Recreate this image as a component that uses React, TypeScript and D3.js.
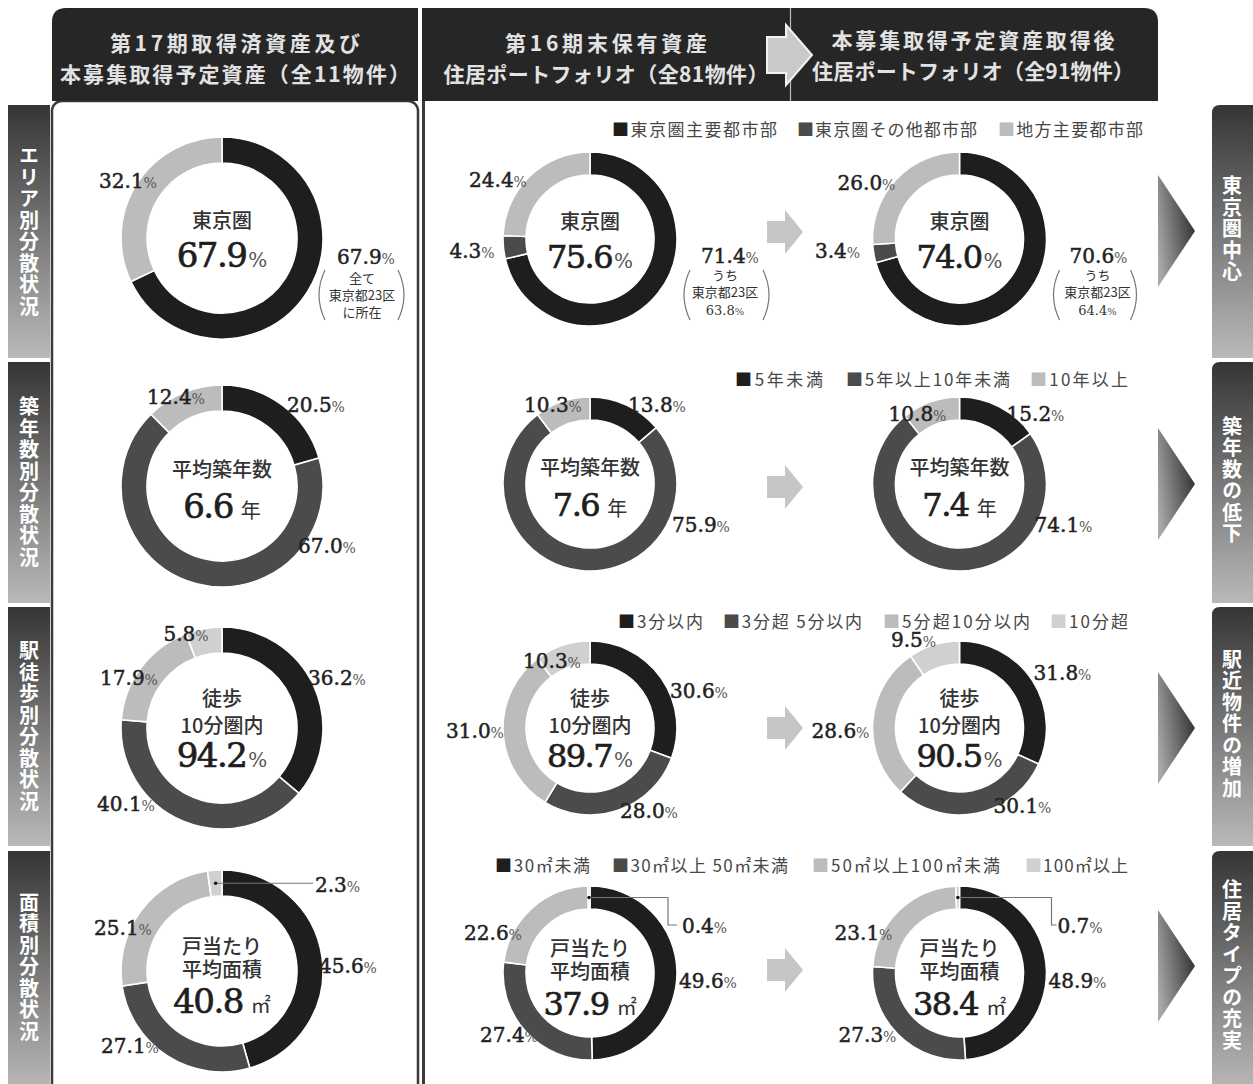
import React from "react";
import * as d3 from "d3";

// ---------------- DATA ----------------
const headerLeft = ["第17期取得済資産及び", "本募集取得予定資産（全11物件）"];
const headerMiddle = ["第16期末保有資産", "住居ポートフォリオ（全81物件）"];
const headerRight = ["本募集取得予定資産取得後", "住居ポートフォリオ（全91物件）"];

const rowTitles = ["エリア別分散状況", "築年数別分散状況", "駅徒歩別分散状況", "面積別分散状況"];
const rowConclusions = ["東京圏中心", "築年数の低下", "駅近物件の増加", "住居タイプの充実"];

const areaCategories = ["東京圏主要都市部", "東京圏その他都市部", "地方主要都市部"];
const areaValues17 = [67.9, 0, 32.1];
const areaValues16 = [71.4, 4.3, 24.4];
const areaValuesAfter = [70.6, 3.4, 26.0];
const areaCenterValues = ["67.9", "75.6", "74.0"];
const areaNotes = [
  ["全て", "東京都23区", "に所在"],
  ["うち", "東京都23区", "63.8%"],
  ["うち", "東京都23区", "64.4%"],
];

const ageCategories = ["5年未満", "5年以上10年未満", "10年以上"];
const ageValues17 = [20.5, 67.0, 12.4];
const ageValues16 = [13.8, 75.9, 10.3];
const ageValuesAfter = [15.2, 74.1, 10.8];
const ageCenterValues = ["6.6", "7.6", "7.4"];

const walkCategories = ["3分以内", "3分超 5分以内", "5分超10分以内", "10分超"];
const walkValues17 = [36.2, 40.1, 17.9, 5.8];
const walkValues16 = [30.6, 28.0, 31.0, 10.3];
const walkValuesAfter = [31.8, 30.1, 28.6, 9.5];
const walkCenterValues = ["94.2", "89.7", "90.5"];

const sizeCategories = ["30㎡未満", "30㎡以上 50㎡未満", "50㎡以上100㎡未満", "100㎡以上"];
const sizeValues17 = [45.6, 27.1, 25.1, 2.3];
const sizeValues16 = [49.6, 27.4, 22.6, 0.4];
const sizeValuesAfter = [48.9, 27.3, 23.1, 0.7];
const sizeCenterValues = ["40.8", "37.9", "38.4"];

const centerTitles = [["東京圏"], ["平均築年数"], ["徒歩", "10分圏内"], ["戸当たり", "平均面積"]];
const centerUnits = ["%", "年", "%", "㎡"];

// ---------------- LAYOUT / STYLE ----------------
const W = 1253;
const H = 1084;
const SANS = "'Noto Sans CJK JP', 'Noto Sans', sans-serif";
const SERIF = "'DejaVu Serif', 'Liberation Serif', serif";
const segColors = ["#1e1e1e", "#4b4b4b", "#bcbcbc", "#d0d0d0"];

const rowValues = [
  [areaValues17, areaValues16, areaValuesAfter],
  [ageValues17, ageValues16, ageValuesAfter],
  [walkValues17, walkValues16, walkValuesAfter],
  [sizeValues17, sizeValues16, sizeValuesAfter],
];
const rowCategories = [areaCategories, ageCategories, walkCategories, sizeCategories];
const rowCenterValues = [areaCenterValues, ageCenterValues, walkCenterValues, sizeCenterValues];

const colCX = [222, 590, 959.5];
const donutCY = [
  [238, 486, 728, 971],
  [239, 484, 728, 973],
  [239, 484, 728, 973],
];
const radii = [
  [75, 101],
  [64, 87],
  [64, 87],
];

// label offsets [dx, baseline dy] relative to donut centre, per row / column / category
const labelOffsets: (number[] | null)[][][] = [
  [
    [[144, 26], null, [-94, -50]],
    [[140, 24], [-118, 19], [-92, -52]],
    [[139, 24], [-122, 19], [-93, -49]],
  ],
  [
    [[94, -74], [105, 67], [-46, -82]],
    [[67, -72], [111, 48], [-37, -72]],
    [[76, -63], [104, 48], [-42, -63]],
  ],
  [
    [[115, -43], [-96, 83], [-93, -43], [-36, -87]],
    [[109, -30], [59, 90], [-115, 10], [-38, -60]],
    [[103, -48], [63, 85], [-119, 10], [-46, -81]],
  ],
  [
    [[126, 2], [-92, 82], [-99, -36], [93, -79]],
    [[118, 15], [-81, 69], [-97, -33], [92, -40]],
    [[118, 15], [-92, 69], [-96, -33], [98, -40]],
  ],
];
// leader for the tiny last segment in the area row
const leaders = [
  { cornerX: 91, downY: null as number | null, endX: 91 },
  { cornerX: 78, downY: -48, endX: 87 },
  { cornerX: 92, downY: -48, endX: 97 },
];

const centerLayout = [
  { titles: [-10], num: 29 },
  { titles: [-9], num: 32 },
  { titles: [-22, 5], num: 39 },
  { titles: [-17, 6], num: 42 },
];

const legendY = [130, 380, 622, 866];
const legendStarts = [
  [612, 797, 998],
  [735, 846, 1030],
  [618, 723, 883, 1050],
  [495, 612, 812, 1025],
];
const legendWidths = [
  [165, 180, 145],
  [88, 164, 98],
  [85, 139, 147, 78],
  [95, 176, 188, 103],
];

const rowBands = [
  [105, 358],
  [362, 603],
  [607, 846],
  [851, 1090],
];
const arrowCY = [232, 487, 728, 970];
const triCY = [231, 484, 728, 966];

const noteLayout = [
  { dx: 140, lines: [45, 62, 79], pl: 96, pr: 183, pt: 32, pb: 82 },
  { dx: 135, lines: [41, 58, 76], pl: 93, pr: 180, pt: 31, pb: 81 },
  { dx: 138, lines: [41, 58, 76], pl: 93, pr: 178, pt: 31, pb: 81 },
];

const pie = d3
  .pie<number>()
  .sort(null)
  .value((d) => d)
  .startAngle(0)
  .endAngle(2 * Math.PI);

function VText({ x, yc, text, size, spacing, fill }: any) {
  return (
    <text
      x={x}
      y={yc}
      textAnchor="middle"
      fontFamily={SANS}
      fontSize={size}
      fontWeight={700}
      fill={fill}
      letterSpacing={spacing}
      style={{ writingMode: "vertical-rl", textOrientation: "upright" } as any}
    >
      {text}
    </text>
  );
}

function Paren({ x1, x2, y1, y2 }: any) {
  const ym = (y1 + y2) / 2;
  return (
    <g fill="none" stroke="#777" strokeWidth={1.2}>
      <path d={`M${x1 + 7},${y1} Q${x1 - 5},${ym} ${x1 + 7},${y2}`} />
      <path d={`M${x2 - 7},${y1} Q${x2 + 5},${ym} ${x2 - 7},${y2}`} />
    </g>
  );
}

function BlockArrow({ x0, cy, shaftEnd, tip, sh, hh, fill, stroke }: any) {
  const pts = [
    [x0, cy - sh],
    [shaftEnd, cy - sh],
    [shaftEnd, cy - hh],
    [tip, cy],
    [shaftEnd, cy + hh],
    [shaftEnd, cy + sh],
    [x0, cy + sh],
  ];
  return <polygon points={pts.map((p) => p.join(",")).join(" ")} fill={fill} stroke={stroke || "none"} strokeWidth={2} />;
}

export default function App() {
  const headers = [headerLeft, headerMiddle, headerRight];
  const headerCX = [235, 606, 973];
  const headerY = [[51, 82], [51, 82], [48, 79]];
  const headerLens = [
    [250, 350],
    [202, 325],
    [283, 322],
  ];

  return (
    <div style={{ position: "absolute", left: 0, top: 0 }}>
      <svg width={W} height={H} viewBox={`0 0 ${W} ${H}`} style={{ display: "block", background: "#fff" }}>
        <defs>
          <linearGradient id="sideGrad" x1="0" y1="0" x2="0" y2="1">
            <stop offset="0" stopColor="#353535" />
            <stop offset="1" stopColor="#b9b9b9" />
          </linearGradient>
          <linearGradient id="triGrad" x1="0" y1="0.7" x2="1" y2="0.3">
            <stop offset="0" stopColor="#a8a8a8" />
            <stop offset="1" stopColor="#2c2c2c" />
          </linearGradient>
        </defs>

        {/* panels */}
        <rect x={52} y={101} width={366} height={1010} rx={10} fill="#fff" stroke="#3a3a3a" strokeWidth={2.5} />
        <line x1={423.5} x2={423.5} y1={101} y2={H} stroke="#3a3a3a" strokeWidth={3} />

        {/* headers */}
        <path d="M52,101 V22 Q52,8 66,8 H418 V101 Z" fill="#262626" />
        <rect x={422} y={8} width={368} height={93} fill="#262626" />
        <path d="M791,101 V8 H1144 Q1158,8 1158,22 V101 Z" fill="#262626" />
        <line x1={790.5} x2={790.5} y1={8} y2={101} stroke="#bdbdbd" strokeWidth={1.2} />
        <BlockArrow x0={767} cy={55} shaftEnd={786} tip={812} sh={18} hh={30} fill="#c9c9c9" stroke="#f2f2f2" />
        {headers.map((lines, i) =>
          lines.map((t, j) => (
            <text
              key={`h${i}${j}`}
              x={headerCX[i]}
              y={headerY[i][j]}
              textAnchor="middle"
              fontFamily={SANS}
              fontSize={21}
              fontWeight={700}
              fill="#e2e2e2"
              textLength={headerLens[i][j]}
              lengthAdjust="spacing"
            >
              {t}
            </text>
          ))
        )}

        {/* left and right side labels */}
        {rowBands.map(([y1, y2], r) => (
          <g key={`side${r}`}>
            <rect x={8} y={y1} width={42} height={Math.min(y2, H + 10) - y1} fill="url(#sideGrad)" />
            <VText x={29} yc={(y1 + Math.min(y2, H)) / 2} text={rowTitles[r]} size={20} spacing={1.5} fill="#fff" />
            <path
              d={`M1212,${y2} V${y1 + 8} Q1212,${y1} 1220,${y1} H${W} V${y2} Z`}
              fill="url(#sideGrad)"
            />
            <VText x={1232} yc={(y1 + Math.min(y2, H)) / 2 - 2} text={rowConclusions[r]} size={20} spacing={1.5} fill="#fff" />
            <polygon
              points={`1158,${triCY[r] - 56} 1195,${triCY[r]} 1158,${triCY[r] + 56}`}
              fill="url(#triGrad)"
            />
            <BlockArrow x0={767} cy={arrowCY[r]} shaftEnd={785} tip={803} sh={11} hh={22} fill="#c6c6c6" />
          </g>
        ))}

        {/* legends */}
        {rowCategories.map((cats, r) =>
          cats.map((c, k) => (
            <text
              key={`lg${r}${k}`}
              x={legendStarts[r][k]}
              y={legendY[r] + 6}
              fontFamily={SANS}
              fontSize={17}
              fill="#474747"
              textLength={legendWidths[r][k]}
              lengthAdjust="spacing"
            >
              <tspan fill={segColors[k]}>■</tspan>
              {c}
            </text>
          ))
        )}

        {/* donuts */}
        {rowValues.map((cols, r) =>
          cols.map((vals, c) => {
            const cx = colCX[c];
            const cy = donutCY[c][r];
            const [ri, ro] = radii[c];
            const arcs = pie(vals);
            const arcGen = d3.arc<d3.PieArcDatum<number>>().innerRadius(ri).outerRadius(ro);
            const bigSize = c === 0 ? 34 : 32;
            const cl = centerLayout[r];
            const unit = centerUnits[r];
            return (
              <g key={`d${r}${c}`} transform={`translate(${cx},${cy})`}>
                {arcs.map((a, k) =>
                  a.value > 0 ? (
                    <path key={k} d={arcGen(a) || ""} fill={segColors[k]} stroke="#fff" strokeWidth={1.6} />
                  ) : null
                )}
                {/* labels */}
                {arcs.map((a, k) => {
                  const off = labelOffsets[r][c][k];
                  if (!off || a.value <= 0) return null;
                  const isLeader = r === 3 && k === 3;
                  return (
                    <text
                      key={`l${k}`}
                      x={off[0]}
                      y={off[1]}
                      textAnchor={isLeader ? "start" : "middle"}
                      fontFamily={SERIF}
                      fontSize={20}
                      fill="#222"
                      stroke="#222"
                      strokeWidth={0.5}
                    >
                      {a.value.toFixed(1)}
                      <tspan fontSize={14} fill="#555" stroke="none">
                        %
                      </tspan>
                    </text>
                  );
                })}
                {/* leader for smallest area segment */}
                {r === 3 &&
                  (() => {
                    const a = arcs[3];
                    const [px, py] = arcGen.centroid(a);
                    const L = leaders[c];
                    const d =
                      L.downY === null
                        ? `M${px + 2},${py} H${L.endX}`
                        : `M${px + 2},${py} H${L.cornerX} V${L.downY} H${L.endX}`;
                    return (
                      <g>
                        <path d={d} fill="none" stroke="#777" strokeWidth={1.2} />
                        <circle cx={px} cy={py} r={1.8} fill="#111" />
                      </g>
                    );
                  })()}
                {/* centre text: titles and big value in one text block */}
                <text textAnchor="middle" fontFamily={SANS} fontSize={20} fontWeight={500} fill="#333">
                  {centerTitles[r].map((t, j) => (
                    <tspan key={`ct${j}`} x={0} y={cl.titles[j]}>
                      {t}
                    </tspan>
                  ))}
                  <tspan
                    x={0}
                    y={cl.num}
                    fontFamily={SERIF}
                    fontWeight={400}
                    fontSize={bigSize}
                    fill="#1e1e1e"
                    stroke="#1e1e1e"
                    strokeWidth={0.7}
                    letterSpacing={-1.5}
                  >
                    {rowCenterValues[r][c]}
                  </tspan>
                  {unit === "%" ? (
                    <tspan fontFamily={SERIF} fontWeight={400} fontSize={20} fill="#555" dx={2}>
                      %
                    </tspan>
                  ) : (
                    <tspan fontSize={20} fontWeight={400} fill="#333" dx={8}>
                      {unit}
                    </tspan>
                  )}
                </text>
                {/* notes in parentheses for area row */}
                {r === 0 &&
                  (() => {
                    const n = noteLayout[c];
                    const lines = areaNotes[c];
                    return (
                      <g>
                        <Paren x1={n.pl} x2={n.pr} y1={n.pt} y2={n.pb} />
                        {lines.map((t, j) => {
                          const isNum = /%$/.test(t);
                          return (
                            <text
                              key={`n${j}`}
                              x={n.dx}
                              y={n.lines[j]}
                              textAnchor="middle"
                              fontFamily={isNum ? SERIF : SANS}
                              fontSize={13}
                              fill="#333"
                            >
                              {isNum ? (
                                <>
                                  {t.slice(0, -1)}
                                  <tspan fontSize={10} fill="#555">%</tspan>
                                </>
                              ) : (
                                t
                              )}
                            </text>
                          );
                        })}
                      </g>
                    );
                  })()}
              </g>
            );
          })
        )}
      </svg>
    </div>
  );
}
